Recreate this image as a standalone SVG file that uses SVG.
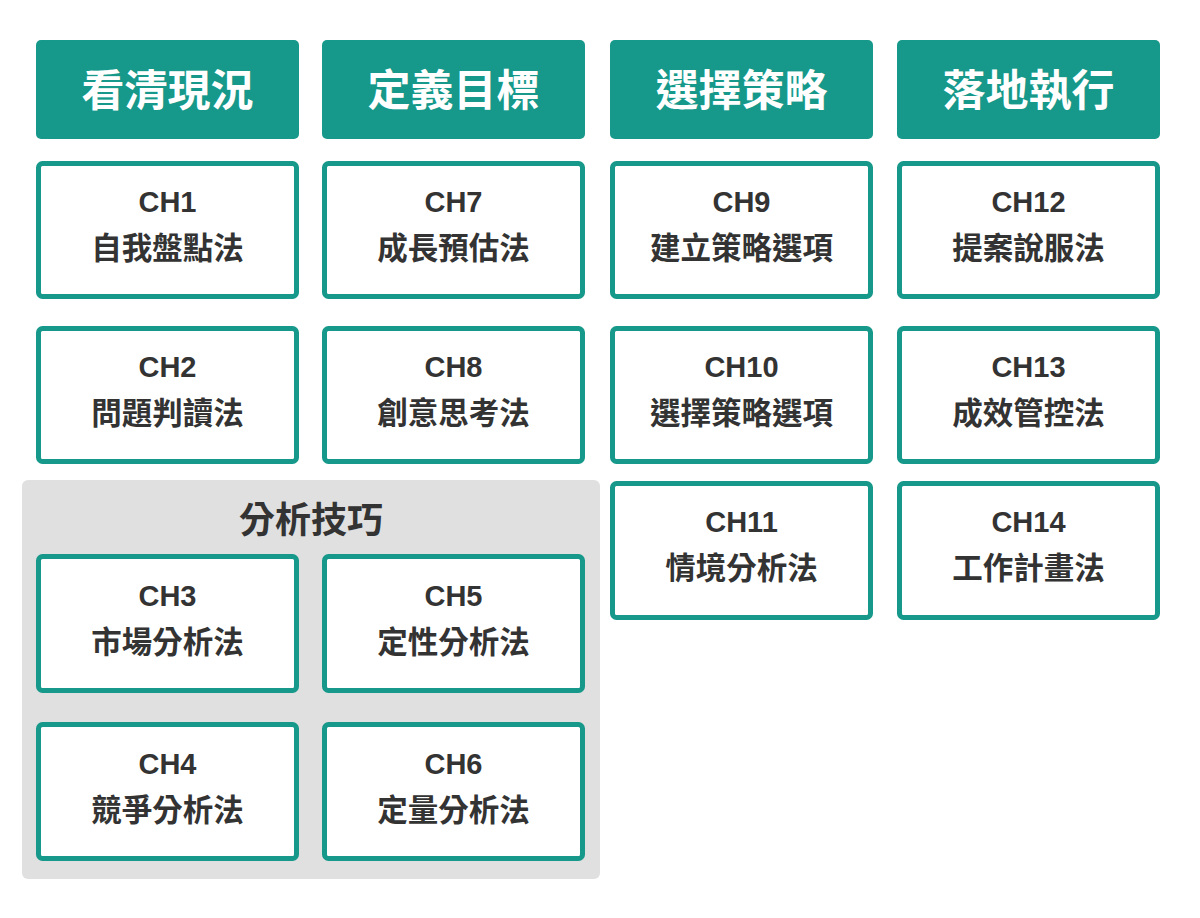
<svg xmlns="http://www.w3.org/2000/svg" width="1200" height="918" viewBox="0 0 1200 918">
<style>
.hd{fill:#16988a}
.hdt{fill:#fff;font-family:"Noto Sans CJK TC","Noto Sans CJK SC",sans-serif;font-weight:700;font-size:43px;text-anchor:middle}
.bx{fill:#fff;stroke:#16988a;stroke-width:5}
.ch{fill:#333;font-family:"Liberation Sans",Arial,sans-serif;font-weight:700;font-size:29px;text-anchor:middle}
.zh{fill:#333;font-family:"Noto Sans CJK TC","Noto Sans CJK SC",sans-serif;font-weight:700;font-size:30.5px;text-anchor:middle}
.pn{fill:#e0e0e0}
.pnt{fill:#333;font-family:"Noto Sans CJK TC","Noto Sans CJK SC",sans-serif;font-weight:700;font-size:36px;text-anchor:middle}
</style>
<rect width="1200" height="918" fill="#fff"/>
<g id="panel">
<rect class="pn" x="22" y="480" width="578" height="399" rx="6"/>
<text class="pnt" x="311" y="533">分析技巧</text>
</g>
<g id="h1"><rect class="hd" x="36" y="40" width="263" height="99" rx="5"/><text class="hdt" x="167.5" y="106">看清現況</text></g>
<g id="h2"><rect class="hd" x="322" y="40" width="263" height="99" rx="5"/><text class="hdt" x="453.5" y="106">定義目標</text></g>
<g id="h3"><rect class="hd" x="610" y="40" width="263" height="99" rx="5"/><text class="hdt" x="741.5" y="106">選擇策略</text></g>
<g id="h4"><rect class="hd" x="897" y="40" width="263" height="99" rx="5"/><text class="hdt" x="1028.5" y="106">落地執行</text></g>

<g id="ch1"><rect class="bx" x="38.5" y="163.5" width="258" height="133" rx="4"/><text class="ch" x="167.5" y="212">CH1</text><text class="zh" x="167.5" y="259">自我盤點法</text></g>
<g id="ch2"><rect class="bx" x="38.5" y="328.5" width="258" height="133" rx="4"/><text class="ch" x="167.5" y="377">CH2</text><text class="zh" x="167.5" y="424">問題判讀法</text></g>
<g id="ch3"><rect class="bx" x="38.5" y="556.5" width="258" height="134" rx="4"/><text class="ch" x="167.5" y="606">CH3</text><text class="zh" x="167.5" y="653">市場分析法</text></g>
<g id="ch4"><rect class="bx" x="38.5" y="724.5" width="258" height="134" rx="4"/><text class="ch" x="167.5" y="774">CH4</text><text class="zh" x="167.5" y="821">競爭分析法</text></g>
<g id="ch5"><rect class="bx" x="324.5" y="556.5" width="258" height="134" rx="4"/><text class="ch" x="453.5" y="606">CH5</text><text class="zh" x="453.5" y="653">定性分析法</text></g>
<g id="ch6"><rect class="bx" x="324.5" y="724.5" width="258" height="134" rx="4"/><text class="ch" x="453.5" y="774">CH6</text><text class="zh" x="453.5" y="821">定量分析法</text></g>
<g id="ch7"><rect class="bx" x="324.5" y="163.5" width="258" height="133" rx="4"/><text class="ch" x="453.5" y="212">CH7</text><text class="zh" x="453.5" y="259">成長預估法</text></g>
<g id="ch8"><rect class="bx" x="324.5" y="328.5" width="258" height="133" rx="4"/><text class="ch" x="453.5" y="377">CH8</text><text class="zh" x="453.5" y="424">創意思考法</text></g>
<g id="ch9"><rect class="bx" x="612.5" y="163.5" width="258" height="133" rx="4"/><text class="ch" x="741.5" y="212">CH9</text><text class="zh" x="741.5" y="259">建立策略選項</text></g>
<g id="ch10"><rect class="bx" x="612.5" y="328.5" width="258" height="133" rx="4"/><text class="ch" x="741.5" y="377">CH10</text><text class="zh" x="741.5" y="424">選擇策略選項</text></g>
<g id="ch11"><rect class="bx" x="612.5" y="483.5" width="258" height="134" rx="4"/><text class="ch" x="741.5" y="532">CH11</text><text class="zh" x="741.5" y="579">情境分析法</text></g>
<g id="ch12"><rect class="bx" x="899.5" y="163.5" width="258" height="133" rx="4"/><text class="ch" x="1028.5" y="212">CH12</text><text class="zh" x="1028.5" y="259">提案說服法</text></g>
<g id="ch13"><rect class="bx" x="899.5" y="328.5" width="258" height="133" rx="4"/><text class="ch" x="1028.5" y="377">CH13</text><text class="zh" x="1028.5" y="424">成效管控法</text></g>
<g id="ch14"><rect class="bx" x="899.5" y="483.5" width="258" height="134" rx="4"/><text class="ch" x="1028.5" y="532">CH14</text><text class="zh" x="1028.5" y="579">工作計畫法</text></g>
<g id="connectors"></g>
</svg>
